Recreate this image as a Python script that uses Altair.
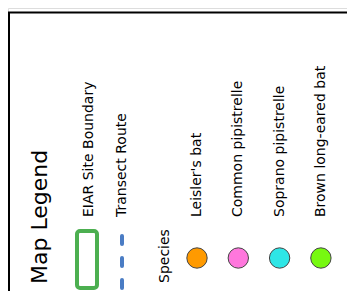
import altair as alt
import pandas as pd

# ---- data ----
title = "Map Legend"
boundary_label = "EIAR Site Boundary"
transect_label = "Transect Route"
species_header = "Species"
species = ["Leisler's bat", "Common pipistrelle", "Soprano pipistrelle", "Brown long-eared bat"]
species_colors = ["#FF9A00", "#FF77DD", "#2EE6E6", "#77F911"]
boundary_color = "#4CAF50"
transect_color = "#4A7CC4"

W, H = 339, 283
FONT = "DejaVu Sans"
LBL = 14

xs = alt.Scale(domain=[0, W], nice=False, zero=False)
ys = alt.Scale(domain=[H, 0], nice=False, zero=False)
X = lambda f: alt.X(f, type="quantitative", scale=xs, axis=None)
Y = lambda f: alt.Y(f, type="quantitative", scale=ys, axis=None)

# layout (chart-pixel positions)
col_x = {"title": 32, "boundary": 79, "transect": 114, "species": 157}
bat_x = [189 + 41.3 * i for i in range(len(species))]
label_bottom = 209

texts = pd.DataFrame({
    "t": [title, boundary_label, transect_label, species_header] + species,
    "x": [col_x["title"], col_x["boundary"] + 2, col_x["transect"], col_x["species"]] + bat_x,
    "y": [276, label_bottom, label_bottom, 275] + [label_bottom] * len(species),
    "size": [22, LBL, LBL, LBL] + [LBL] * len(species),
})

text_layer = alt.Chart(texts).mark_text(
    angle=270, align="left", baseline="middle", font=FONT, color="#000000"
).encode(x=X("x"), y=Y("y"), text="t:N", size=alt.Size("size:Q", scale=None, legend=None))

bats = pd.DataFrame({"name": species, "color": species_colors, "x": bat_x, "y": [250] * len(species)})
circles = alt.Chart(bats).mark_circle(size=415, opacity=1, stroke="#444444", strokeWidth=1).encode(
    x=X("x"), y=Y("y"), fill=alt.Fill("color:N", scale=None)
)

bnd = pd.DataFrame({"x": [col_x["boundary"] - 10], "x2": [col_x["boundary"] + 10], "y": [223], "y2": [280]})
boundary = alt.Chart(bnd).mark_rect(
    fill="white", stroke=boundary_color, strokeWidth=4, cornerRadius=3
).encode(x=X("x"), x2="x2", y=Y("y"), y2="y2")

tr = pd.DataFrame({"x": [col_x["transect"]], "y": [228], "y2": [281]})
transect = alt.Chart(tr).mark_rule(
    stroke=transect_color, strokeWidth=4, strokeDash=[8, 14], strokeCap="round"
).encode(x=X("x"), y=Y("y"), y2="y2")

frame = pd.DataFrame({"x": [0, 1], "x2": [W, 1], "y": [4.5, 4.5], "y2": [4.5, H]})
border = alt.Chart(frame).mark_rule(stroke="black", strokeWidth=2).encode(
    x=X("x"), x2="x2", y=Y("y"), y2="y2"
)

chart = alt.layer(border, boundary, transect, circles, text_layer).properties(
    width=W, height=H, padding=0, autosize=alt.AutoSizeParams(type="none")
).configure_view(stroke=None).configure(background="white")

chart.save("out.html", embed_options={"renderer": "svg", "actions": False})
